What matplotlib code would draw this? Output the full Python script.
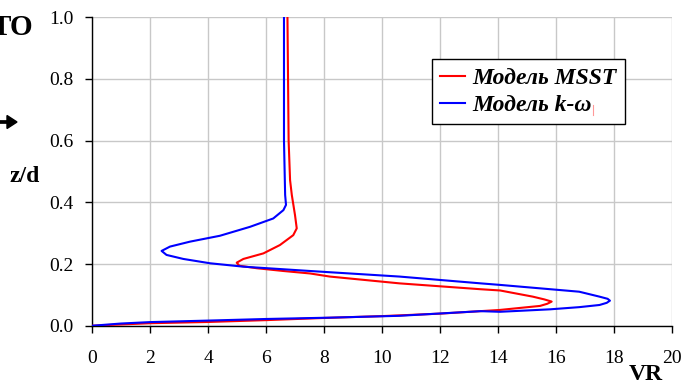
import matplotlib
matplotlib.use("Agg")
import matplotlib.pyplot as plt
from matplotlib.lines import Line2D

# k-omega model (blue)
kw_vr = [6.62, 6.62, 6.66, 6.69, 6.60, 6.25, 5.45, 4.41, 3.38, 2.69, 2.40, 2.57, 3.15, 4.07, 5.22,
         7.52, 8.2, 10.6, 13.4, 14.07, 16.8, 17.5, 17.78, 17.86, 17.75, 17.5, 16.8, 15.8, 14.07,
         13.4, 10.6, 8.2, 6.0, 4.0, 2.0, 1.0, 0.03]
kw_z = [1.0, 0.6, 0.424, 0.392, 0.375, 0.348, 0.321, 0.292, 0.273, 0.257, 0.243, 0.230, 0.217, 0.203, 0.192,
        0.178, 0.174, 0.16, 0.138, 0.133, 0.111, 0.095, 0.088, 0.082, 0.075, 0.068, 0.061, 0.054, 0.046,
        0.048, 0.033, 0.027, 0.0227, 0.0175, 0.0126, 0.008, 0.001]

# MSST model (red)
msst_vr = [6.74, 6.78, 6.83, 6.89, 7.0, 7.06, 6.94, 6.48, 5.91, 5.22, 4.99, 5.08, 5.68, 6.60, 7.52,
           8.2, 10.6, 13.4, 14.07, 15.2, 15.6, 15.85, 15.7, 15.45, 14.07, 12.0, 10.0, 8.0, 6.0, 4.0, 2.0, 0.03]
msst_z = [1.0, 0.6, 0.472, 0.424, 0.359, 0.316, 0.294, 0.262, 0.235, 0.217, 0.205, 0.195, 0.187, 0.178, 0.170,
          0.16, 0.138, 0.119, 0.115, 0.095, 0.086, 0.079, 0.072, 0.065, 0.052, 0.04, 0.032, 0.026, 0.019, 0.013, 0.009, 0.001]

xticks = [0, 2, 4, 6, 8, 10, 12, 14, 16, 18, 20]
yticks = [0.0, 0.2, 0.4, 0.6, 0.8, 1.0]

plt.rcParams['font.family'] = ['Liberation Serif', 'DejaVu Serif']

fig = plt.figure(figsize=(6.85, 3.83), dpi=100)
ax = fig.add_axes([92/685, 1-326/383, 580/685, 309/383])

ax.plot(msst_vr, msst_z, color='#ff0000', lw=1.5, label='Модель MSST', zorder=3,
        solid_joinstyle='round')
ax.plot(kw_vr, kw_z, color='#0000ff', lw=1.5, label='Модель k-ω', zorder=4,
        solid_joinstyle='round')

ax.set_xlim(0, 20)
ax.set_ylim(0, 1.0)
ax.set_xticks(xticks)
ax.set_yticks(yticks)
ax.set_xticklabels([str(t) for t in xticks])
ax.set_yticklabels([f"{t:.1f}" for t in yticks])
ax.tick_params(direction='out', length=5, width=1, labelsize=14, color='black')
ax.tick_params(axis='y', pad=8.5)
ax.tick_params(axis='x', pad=12)
ax.grid(True, color='#c8c8c8', lw=1)
ax.set_axisbelow(True)
for s in ['top', 'right']:
    ax.spines[s].set_visible(False)
for s in ['left', 'bottom']:
    ax.spines[s].set_linewidth(1)
    ax.spines[s].set_color('black')

leg = ax.legend(loc='upper left', bbox_to_anchor=((432-92)/580, (326-59)/309),
                prop={'family': ['Liberation Serif'], 'weight': 'bold', 'style': 'italic', 'size': 17},
                frameon=True, fancybox=False, edgecolor='black', handlelength=1.05,
                borderpad=0.35, labelspacing=0.25, handletextpad=0.3, borderaxespad=0)
leg.get_frame().set_linewidth(1)
leg.get_frame().set_alpha(1)

fig.text(25/685, 1-182/383, 'z/d', fontsize=17, fontweight='bold', ha='center', va='baseline')
fig.text(646/685, 3/383, 'VR', fontsize=17, fontweight='bold', ha='center', va='baseline')
fig.text(33/685, 1-35/383, 'ТО', fontsize=21, fontweight='bold', ha='right', va='baseline')
fig.patches.append(matplotlib.patches.FancyArrow(0.0, 1-122/383, 17/685, 0, width=0.006,
                   head_width=0.034, head_length=10/685, length_includes_head=True,
                   color='black', transform=fig.transFigure))
fig.lines.append(Line2D([593/685, 593/685], [1-105/383, 1-115/383], color='#ff9999', lw=0.8,
                        transform=fig.transFigure))

fig.savefig('out.png', dpi=100)
